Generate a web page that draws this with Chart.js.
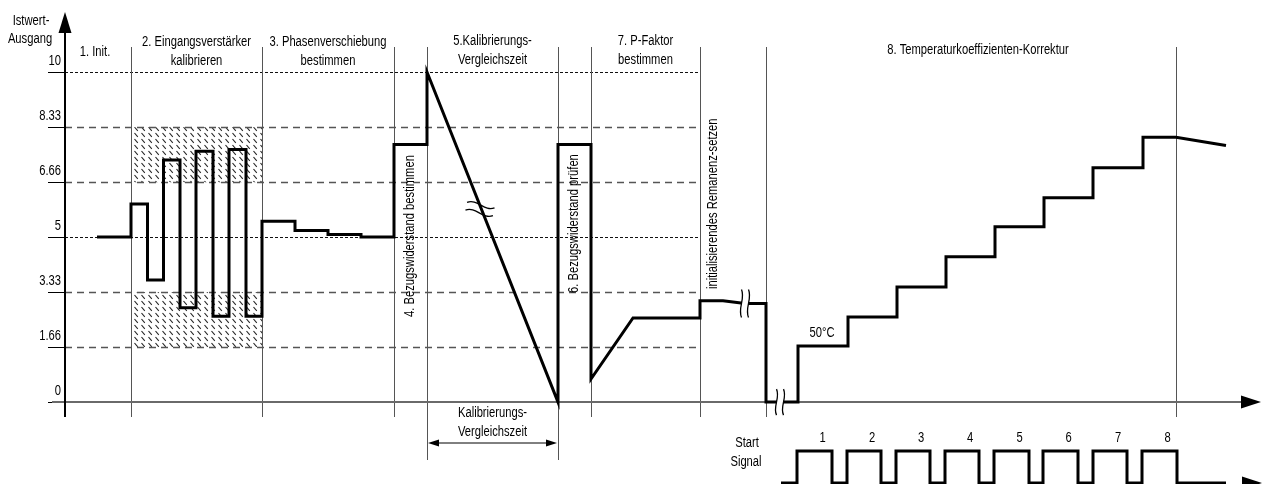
<!DOCTYPE html>
<html>
<head>
<meta charset="utf-8">
<script src="https://cdn.jsdelivr.net/npm/chart.js@4.4.1/dist/chart.umd.min.js"></script>
<style>
  html, body { margin: 0; padding: 0; background: #fff; }
  #wrap { width: 1263px; height: 484px; position: relative; }
</style>
</head>
<body>
<div id="wrap"><canvas id="diagramm" width="1263" height="484"></canvas></div>
<script>
// Werte. x = Zeit (willkürliche Einheit, 0 = y-Achse), y = Istwert-Ausgang
const yTicks = [0, 1.66, 3.33, 5, 6.66, 8.33, 10];
const yTickLabels = ['0', '1.66', '3.33', '5', '6.66', '8.33', '10'];
const feineLinien = [5, 10];

// Grenzen der Phasen
const phasenGrenzen = [66, 197, 329, 362, 493, 526, 635, 701, 1111];
const schraffurBereiche = [[6.66, 8.33], [1.66, 3.33]];

// Istwert-Verlauf
const signalX = [32, 66, 66, 82.5, 82.5, 98.5, 98.5, 115, 115, 131,
                 131, 148, 148, 164, 164, 181, 181, 197, 197, 230,
                 230, 263, 263, 296, 296, 329, 329, 362, 362, 493,
                 493, 526, 526, 568, 635, 635, 658, 680, 701, 701,
                 733, 733, 783, 783, 832, 832, 881, 881, 930, 930,
                 979, 979, 1028, 1028, 1078, 1078, 1111, 1161];
const signalY = [5, 5, 6.0, 6.0, 3.7, 3.7, 7.33, 7.33, 2.86, 2.86,
                 7.6, 7.6, 2.6, 2.6, 7.65, 7.65, 2.6, 2.6, 5.48, 5.48,
                 5.2, 5.2, 5.08, 5.08, 5.0, 5.0, 7.8, 7.8, 10, 0,
                 7.8, 7.8, 0.7, 2.55, 2.55, 3.07, 3.07, 2.99, 2.99, 0,
                 0, 1.7, 1.7, 2.58, 2.58, 3.49, 3.49, 4.4, 4.4, 5.31,
                 5.31, 6.19, 6.19, 7.1, 7.1, 8.02, 8.02, 7.77];

// Start-Signal (Impulse 1..8)
const impulsLabels = ['1', '2', '3', '4', '5', '6', '7', '8'];
const impulsAnfang = [732, 782, 831, 880, 929, 978, 1028, 1077];
const impulsEnde = [767, 816, 865, 914, 964, 1013, 1062, 1112];
const startSignalVon = 716, startSignalBis = 1161;
const startLow = -2.45, startHigh = -1.48;

// Unterbrechungen (x, y) im Verlauf
const bruchStellen = [[415, 5.85], [680, 2.99], [715, 0]];

const FONT = '"Liberation Sans", Arial, sans-serif';
const SCHMAL = 0.8; // Arial Narrow nachbilden

const signalPunkte = signalX.map((x, i) => ({ x: x, y: signalY[i] }));

const startPunkte = [{ x: startSignalVon, y: startLow }];
impulsAnfang.forEach((a, i) => {
    startPunkte.push({ x: a, y: startLow }, { x: a, y: startHigh },
                     { x: impulsEnde[i], y: startHigh }, { x: impulsEnde[i], y: startLow });
});
startPunkte.push({ x: startSignalBis, y: startLow });

function text(ctx, t, x, y, align, rot) {
    ctx.save();
    ctx.translate(x, y);
    if (rot) ctx.rotate(rot);
    ctx.scale(SCHMAL, 1);
    ctx.font = '14px ' + FONT;
    ctx.fillStyle = '#000';
    ctx.textAlign = align || 'center';
    ctx.textBaseline = 'middle';
    ctx.fillText(t, 0, 0);
    ctx.restore();
}

function schraffurMuster(ctx) {
    const c = document.createElement('canvas');
    c.width = 7; c.height = 6;
    const g = c.getContext('2d');
    g.strokeStyle = '#222';
    g.lineWidth = 1.1;
    g.beginPath();
    g.moveTo(1.5, 1);
    g.lineTo(4.8, 4.8);
    g.stroke();
    return ctx.createPattern(c, 'repeat');
}

function bruch(ctx, cx, cy, rot, len, gap, amp, weiss) {
    ctx.save();
    ctx.translate(cx, cy);
    ctx.rotate(rot);
    const h = len / 2;
    const kurve = (dx) => {
        ctx.moveTo(dx, -h);
        ctx.bezierCurveTo(dx + amp, -h / 3, dx - amp, h / 3, dx, h);
    };
    if (weiss) {
        // weisser Zwischenraum
        ctx.beginPath();
        ctx.moveTo(-gap / 2, -h);
        ctx.bezierCurveTo(-gap / 2 + amp, -h / 3, -gap / 2 - amp, h / 3, -gap / 2, h);
        ctx.lineTo(gap / 2, h);
        ctx.bezierCurveTo(gap / 2 - amp, h / 3, gap / 2 + amp, -h / 3, gap / 2, -h);
        ctx.closePath();
        ctx.fillStyle = '#fff';
        ctx.fill();
    }
    ctx.beginPath();
    kurve(-gap / 2);
    kurve(gap / 2);
    ctx.strokeStyle = '#000';
    ctx.lineWidth = 1.3;
    ctx.stroke();
    ctx.restore();
}

function pfeil(ctx, x, y, richtung, laenge, breite) {
    // richtung: 'oben', 'rechts', 'links'
    ctx.beginPath();
    if (richtung === 'oben') {
        ctx.moveTo(x, y); ctx.lineTo(x - breite, y + laenge); ctx.lineTo(x + breite, y + laenge);
    } else if (richtung === 'rechts') {
        ctx.moveTo(x, y); ctx.lineTo(x - laenge, y - breite); ctx.lineTo(x - laenge, y + breite);
    } else {
        ctx.moveTo(x, y); ctx.lineTo(x + laenge, y - breite); ctx.lineTo(x + laenge, y + breite);
    }
    ctx.closePath();
    ctx.fillStyle = '#000';
    ctx.fill();
}

const diagrammPlugin = {
    id: 'diagrammPlugin',
    beforeDatasetsDraw(chart) {
        const ctx = chart.ctx;
        const X = v => chart.scales.x.getPixelForValue(v);
        const Y = v => chart.scales.y.getPixelForValue(v);
        const x0 = X(0), y0 = Y(0);
        const gridEnde = X(phasenGrenzen[6]);
        ctx.save();

        // Schraffur
        ctx.fillStyle = schraffurMuster(ctx);
        schraffurBereiche.forEach(b => {
            ctx.fillRect(X(phasenGrenzen[0]), Y(b[1]), X(phasenGrenzen[1]) - X(phasenGrenzen[0]), Y(b[0]) - Y(b[1]));
        });

        // Hilfslinien + Teilstriche
        yTicks.forEach((t, i) => {
            const y = Math.round(Y(t)) + 0.5;
            ctx.setLineDash([]);
            ctx.strokeStyle = '#000';
            ctx.lineWidth = 1;
            ctx.beginPath();
            ctx.moveTo(x0 - 17, y);
            ctx.lineTo(x0, y);
            ctx.stroke();
            if (t !== 0) {
                if (feineLinien.includes(t)) {
                    ctx.setLineDash([3, 2]);
                    ctx.strokeStyle = '#111';
                    ctx.lineWidth = 1;
                } else {
                    ctx.setLineDash([7, 5]);
                    ctx.strokeStyle = '#555';
                    ctx.lineWidth = 1.4;
                }
                ctx.beginPath();
                ctx.moveTo(x0, y);
                ctx.lineTo(gridEnde, y);
                ctx.stroke();
            }
            ctx.setLineDash([]);
            text(ctx, yTickLabels[i], x0 - 4, y - 11, 'right');
        });

        // Phasengrenzen
        ctx.strokeStyle = '#555';
        ctx.lineWidth = 1;
        phasenGrenzen.forEach((g, i) => {
            const x = Math.round(X(g)) + 0.5;
            const unten = (i === 3 || i === 4) ? 460 : 417;
            ctx.beginPath();
            ctx.moveTo(x, 47);
            ctx.lineTo(x, unten);
            ctx.stroke();
        });

        // x-Achse
        ctx.strokeStyle = '#6a6a6a';
        ctx.lineWidth = 2;
        ctx.beginPath();
        ctx.moveTo(x0 - 13, y0);
        ctx.lineTo(1245, y0);
        ctx.stroke();
        pfeil(ctx, 1261, y0, 'rechts', 20, 6.5);

        // y-Achse
        ctx.strokeStyle = '#000';
        ctx.lineWidth = 2;
        ctx.beginPath();
        ctx.moveTo(x0, 28);
        ctx.lineTo(x0, 417);
        ctx.stroke();
        pfeil(ctx, x0, 12, 'oben', 21, 6.5);

        // Pfeil des Start-Signals
        pfeil(ctx, 1262, Y(startLow), 'rechts', 20, 6.5);

        // Bemaßung Kalibrierungs-Vergleichszeit
        const ya = 443;
        ctx.strokeStyle = '#000';
        ctx.lineWidth = 1;
        ctx.beginPath();
        ctx.moveTo(X(phasenGrenzen[3]) + 8, ya);
        ctx.lineTo(X(phasenGrenzen[4]) - 8, ya);
        ctx.stroke();
        pfeil(ctx, X(phasenGrenzen[3]) + 1, ya, 'links', 11, 3.5);
        pfeil(ctx, X(phasenGrenzen[4]) - 1, ya, 'rechts', 11, 3.5);

        ctx.restore();
    },
    afterDatasetsDraw(chart) {
        const ctx = chart.ctx;
        const X = v => chart.scales.x.getPixelForValue(v);
        const Y = v => chart.scales.y.getPixelForValue(v);
        ctx.save();

        // Unterbrechungen
        bruch(ctx, X(bruchStellen[0][0]), Y(bruchStellen[0][1]), Math.PI / 2 + 0.2, 28, 8, 6, false);
        bruch(ctx, X(bruchStellen[1][0]), Y(bruchStellen[1][1]), 0, 28, 7, 4, true);
        bruch(ctx, X(bruchStellen[2][0]), Y(bruchStellen[2][1]), 0, 26, 7, 4, true);

        // Achsenbeschriftung
        text(ctx, 'Istwert-', 31, 21);
        text(ctx, 'Ausgang', 30, 39);

        // Phasentitel
        const mitte = (a, b) => (X(a) + X(b)) / 2;
        text(ctx, '1. Init.', mitte(0, phasenGrenzen[0]) - 3, 52);
        text(ctx, '2. Eingangsverstärker', mitte(phasenGrenzen[0], phasenGrenzen[1]), 42);
        text(ctx, 'kalibrieren', mitte(phasenGrenzen[0], phasenGrenzen[1]), 61);
        text(ctx, '3. Phasenverschiebung', mitte(phasenGrenzen[1], phasenGrenzen[2]), 42);
        text(ctx, 'bestimmen', mitte(phasenGrenzen[1], phasenGrenzen[2]), 61);
        text(ctx, '5.Kalibrierungs-', mitte(phasenGrenzen[3], phasenGrenzen[4]), 41);
        text(ctx, 'Vergleichszeit', mitte(phasenGrenzen[3], phasenGrenzen[4]), 60);
        text(ctx, '7. P-Faktor', mitte(phasenGrenzen[5], phasenGrenzen[6]), 41);
        text(ctx, 'bestimmen', mitte(phasenGrenzen[5], phasenGrenzen[6]), 60);
        text(ctx, '8. Temperaturkoeffizienten-Korrektur', mitte(phasenGrenzen[7], phasenGrenzen[8]) + 7, 50);

        // Bemaßungstext
        text(ctx, 'Kalibrierungs-', mitte(phasenGrenzen[3], phasenGrenzen[4]), 413);
        text(ctx, 'Vergleichszeit', mitte(phasenGrenzen[3], phasenGrenzen[4]), 432);

        // 50°C
        text(ctx, '50°C', X(733) + 24, Y(1.7) - 13);

        // Start Signal
        text(ctx, 'Start', 747, 443);
        text(ctx, 'Signal', 746, 462);
        impulsLabels.forEach((l, i) => {
            text(ctx, l, (X(impulsAnfang[i]) + X(impulsEnde[i])) / 2 + 8, 438);
        });

        // senkrechte Texte
        text(ctx, '4. Bezugswiderstand bestimmen', mitte(phasenGrenzen[2], phasenGrenzen[3]), 317, 'left', -Math.PI / 2);
        text(ctx, '6. Bezugswiderstand prüfen', mitte(phasenGrenzen[4], phasenGrenzen[5]), 293, 'left', -Math.PI / 2);
        text(ctx, 'initialisierendes Remanenz-setzen', X(phasenGrenzen[6]) + 13, 289, 'left', -Math.PI / 2);

        ctx.restore();
    }
};

new Chart(document.getElementById('diagramm'), {
    type: 'line',
    data: {
        datasets: [{
            label: 'Istwert',
            data: signalPunkte,
            borderColor: '#000',
            borderWidth: 3,
            pointRadius: 0,
            tension: 0,
            fill: false,
            clip: false
        }, {
            label: 'Start Signal',
            data: startPunkte,
            borderColor: '#000',
            borderWidth: 3,
            pointRadius: 0,
            tension: 0,
            fill: false,
            clip: false
        }]
    },
    options: {
        responsive: false,
        animation: false,
        events: [],
        layout: { padding: 0 },
        scales: {
            x: { type: 'linear', min: -65, max: 1198, display: false },
            y: { type: 'linear', min: -2.48, max: 12.18, display: false }
        },
        plugins: {
            legend: { display: false },
            tooltip: { enabled: false }
        }
    },
    plugins: [diagrammPlugin]
});
</script>
</body>
</html>
